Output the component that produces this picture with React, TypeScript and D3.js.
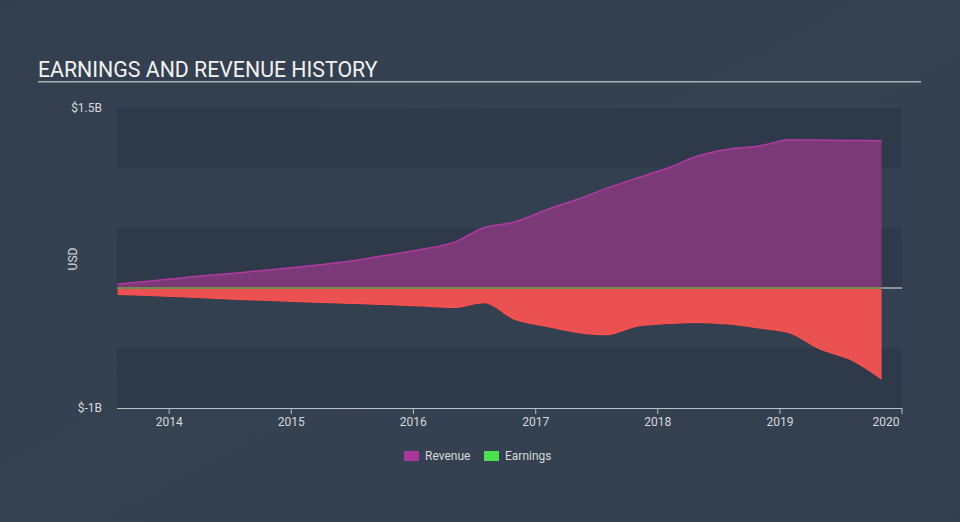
import React from "react";
import * as d3 from "d3";

const dates = [
  "2013-07-31", "2013-10-31", "2014-01-31", "2014-04-30", "2014-07-31", "2014-10-31",
  "2015-01-31", "2015-04-30", "2015-07-31", "2015-10-31", "2016-01-31", "2016-04-30",
  "2016-07-31", "2016-10-31", "2017-01-31", "2017-04-30", "2017-07-31", "2017-10-31",
  "2018-01-31", "2018-04-30", "2018-07-31", "2018-10-31", "2019-01-31", "2019-04-30",
  "2019-07-31", "2019-11-01",
];
const revenue = [
  0.033, 0.057, 0.082, 0.106, 0.128, 0.152, 0.178, 0.205, 0.238, 0.282, 0.325, 0.38,
  0.504, 0.55, 0.65, 0.733, 0.83, 0.917, 1.0, 1.1, 1.156, 1.183, 1.236, 1.233, 1.229, 1.228,
];
const earnings = [
  -0.0525, -0.0625, -0.073, -0.083, -0.094, -0.104, -0.114, -0.1225, -0.131, -0.139, -0.15, -0.161,
  -0.123, -0.2625, -0.317, -0.367, -0.389, -0.317, -0.296, -0.286, -0.3, -0.333, -0.375, -0.508,
  -0.596, -0.758,
];
const yTickLabels = ["$1.5B", "$-1B"];
const yTickValues = [1.5, -1];
const xTickYears = [2014, 2015, 2016, 2017, 2018, 2019, 2020];
const legendItems = [
  { label: "Revenue", color: "#a8379a" },
  { label: "Earnings", color: "#4fe04f" },
];

const W = 960;
const H = 522;
const left = 117;
const right = 902;
const top = 108;
const bottom = 408;

export default function App() {
  const parse = d3.timeParse("%Y-%m-%d");
  const data = dates.map((d, i) => ({ date: parse(d) as Date, rev: revenue[i], earn: earnings[i] }));
  const x = d3
    .scaleTime()
    .domain([new Date(2013, 6, 29), new Date(2020, 0, 1)])
    .range([left, right]);
  const y = d3.scaleLinear().domain([-1, 1.5]).range([bottom, top]);

  const revArea = d3
    .area<any>()
    .x((d) => x(d.date))
    .y0(y(0))
    .y1((d) => y(d.rev))
    .curve(d3.curveMonotoneX);
  const revLine = d3
    .line<any>()
    .x((d) => x(d.date))
    .y((d) => y(d.rev))
    .curve(d3.curveMonotoneX);
  const earnArea = d3
    .area<any>()
    .x((d) => x(d.date))
    .y0(y(0))
    .y1((d) => y(d.earn))
    .curve(d3.curveMonotoneX);
  const earnLine = d3
    .line<any>()
    .x((d) => x(d.date))
    .y((d) => y(d.earn))
    .curve(d3.curveMonotoneX);

  const bands = d3.range(-1, 1.5, 0.5);
  const first = data[0].date;
  const last = data[data.length - 1].date;

  return (
    <svg
      width={W}
      height={H}
      style={{ position: "absolute", left: 0, top: 0, display: "block" }}
      fontFamily="Roboto, 'Open Sans', sans-serif"
    >
      <defs>
        <linearGradient id="bg" x1="0" y1="0" x2="1" y2="1">
          <stop offset="0" stopColor="#333f4e" />
          <stop offset="0.5" stopColor="#354252" />
          <stop offset="1" stopColor="#333f4e" />
        </linearGradient>
      </defs>
      <rect x={0} y={0} width={W} height={H} fill="url(#bg)" />
      <text x={38} y={77} fontSize={21.3} fill="#f2f2f2">
        EARNINGS AND REVENUE HISTORY
      </text>
      <rect x={38} y={81} width={883} height={1.5} fill="#aab1b9" />

      {bands.map((b, i) => (
        <rect
          key={b}
          x={left}
          y={y(b + 0.5)}
          width={right - left}
          height={y(b) - y(b + 0.5)}
          fill={i % 2 === 0 ? "#2e3a49" : "#33404f"}
        />
      ))}

      <line x1={left} x2={right} y1={y(0)} y2={y(0)} stroke="#e6e6e6" strokeWidth={1} />

      <path d={revArea(data) || ""} fill="#7b3a77" />
      <path d={earnArea(data) || ""} fill="#ec5151" />
      <path d={revLine(data) || ""} fill="none" stroke="#b13aa2" strokeWidth={1.5} />
      <path d={earnLine(data) || ""} fill="none" stroke="#ff4f4f" strokeWidth={1.2} />
      <line x1={x(first)} x2={x(last)} y1={y(0)} y2={y(0)} stroke="#6f8b50" strokeWidth={2} />

      {yTickValues.map((v, i) => (
        <text key={v} x={102} y={y(v) + 4} fontSize={12} fill="#d6d9dd" textAnchor="end">
          {yTickLabels[i]}
        </text>
      ))}
      <text
        transform={`translate(77, ${y(0.25) + 1}) rotate(-90)`}
        fontSize={12}
        fill="#d6d9dd"
        textAnchor="middle"
      >
        USD
      </text>

      <line x1={left} x2={right} y1={bottom + 0.5} y2={bottom + 0.5} stroke="#b9c0c8" strokeWidth={1} />
      {xTickYears.map((yr) => {
        const xv = x(new Date(yr, 0, 1));
        return (
          <g key={yr}>
            <line x1={xv} x2={xv} y1={bottom} y2={bottom + 6} stroke="#b9c0c8" strokeWidth={1} />
            <text x={Math.min(xv, right - 16)} y={bottom + 18} fontSize={12} fill="#d6d9dd" textAnchor="middle">
              {yr}
            </text>
          </g>
        );
      })}

      {legendItems.map((it, i) => {
        const lx = 404 + i * 80;
        return (
          <g key={it.label}>
            <rect x={lx} y={451} width={15} height={10} fill={it.color} />
            <text x={lx + 21} y={460} fontSize={12} fill="#d6d9dd">
              {it.label}
            </text>
          </g>
        );
      })}
    </svg>
  );
}
